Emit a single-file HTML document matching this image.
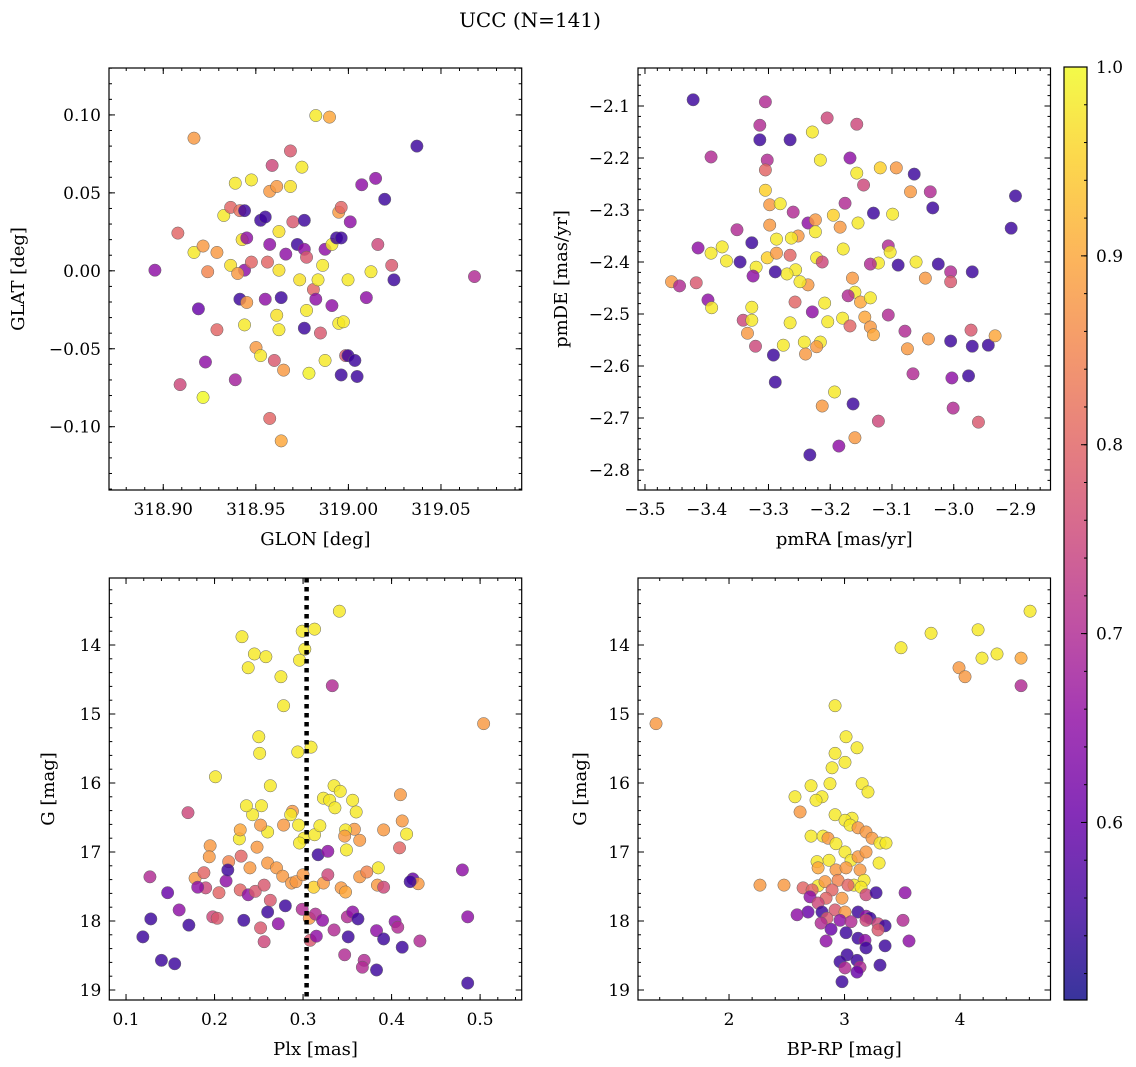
<!DOCTYPE html>
<html><head><meta charset="utf-8"><style>
body{margin:0;background:#fff;}
svg{display:block;font-family:"DejaVu Serif","Liberation Serif",serif;}
</style></head><body>
<svg id="fig" width="1136" height="1067" viewBox="0 0 1136 1067" xmlns="http://www.w3.org/2000/svg">
<defs><linearGradient id="cbg" x1="0" y1="1" x2="0" y2="0"></linearGradient></defs>
<text x="530" y="27" text-anchor="middle" font-size="20">UCC (N=141)</text>
</svg>
<script>
// Panel 1: [GLON, GLAT, membership prob]
const glonGlatProb = [
[318.8955,0.0004,.65],[318.9079,0.0242,.8],[318.9166,0.0851,.88],[318.9091,-0.0730,.75],[318.9190,-0.0244,.6],[318.9215,-0.0812,1],[318.9228,-0.0585,.65],[318.9166,0.0118,.98],[318.9215,0.0159,.88],[318.9240,-0.0006,.85],[318.9290,0.0118,.88],[318.9290,-0.0378,.8],[318.9327,0.0355,.98],[318.9364,0.0407,.8],[318.9389,0.0562,.98],[318.9389,-0.0699,.68],[318.9364,0.0035,.97],[318.9414,0.0386,.82],[318.9439,0.0386,.55],[318.9439,0.0004,.65],[318.9414,-0.0182,.55],[318.9439,-0.0347,.98],[318.9426,0.0200,.97],[318.9451,0.0211,.65],[318.9476,0.0583,.98],[318.9476,0.0056,.8],[318.9501,-0.0492,.88],[318.9526,0.0324,.55],[318.9526,-0.0544,.98],[318.9551,-0.0182,.65],[318.9563,0.0056,.8],[318.9575,0.0510,.88],[318.9575,0.0169,.65],[318.9588,0.0676,.75],[318.9575,-0.0947,.8],[318.9625,0.0252,.97],[318.9613,0.0541,.88],[318.9613,-0.0285,.97],[318.9625,-0.0378,.98],[318.9625,0.0004,.97],[318.9637,-0.0172,.55],[318.9662,0.0107,.65],[318.9650,-0.0637,.88],[318.9637,-0.1091,.9],[318.9687,0.0769,.78],[318.9687,0.0541,.97],[318.9700,0.0314,.78],[318.9724,0.0169,.55],[318.9749,0.0665,.98],[318.9762,0.0324,.55],[318.9762,-0.0368,.55],[318.9774,-0.0254,.98],[318.9787,-0.0657,.99],[318.9737,-0.0058,.97],[318.9762,0.0138,.65],[318.9824,0.0996,.98],[318.9898,0.0986,.9],[318.9811,-0.0120,.8],[318.9824,-0.0182,.65],[318.9836,-0.0058,.98],[318.9861,0.0035,.98],[318.9874,0.0138,.65],[318.9849,-0.0399,.78],[318.9911,-0.0223,.65],[318.9874,-0.0575,.98],[318.9911,0.0169,.98],[318.9936,0.0211,.55],[318.9948,0.0376,.88],[318.9961,0.0407,.8],[318.9948,-0.0337,.98],[318.9961,0.0211,.55],[318.9985,-0.0544,.78],[318.9973,-0.0327,.98],[318.9998,-0.0544,.55],[318.9998,-0.0058,.98],[319.0010,0.0314,.65],[319.0035,-0.0575,.55],[319.0047,-0.0678,.55],[319.0072,0.0552,.65],[319.0097,-0.0172,.65],[319.0122,-0.0006,.98],[319.0147,0.0593,.65],[319.0159,0.0169,.75],[319.0196,0.0459,.55],[319.0234,0.0035,.78],[319.0246,-0.0058,.55],[319.0370,0.0800,.55],[319.0681,-0.0037,.7],[318.9961,-0.0668,.55],[318.9551,0.0345,.55],[318.9451,-0.0203,.88],[318.9600,-0.0575,.78],[318.9774,0.0087,.78],[318.9402,-0.0017,.88]
];
// Panel 2: [pmRA, pmDE, prob]
const pmraPmdeProb = [
[-3.422,-2.088,.55],[-3.305,-2.092,.7],[-3.393,-2.198,.7],[-3.314,-2.137,.7],[-3.314,-2.165,.55],[-3.302,-2.204,.7],[-3.305,-2.262,.95],[-3.305,-2.223,.8],[-3.265,-2.165,.55],[-3.229,-2.150,.98],[-3.205,-2.123,.75],[-3.157,-2.135,.75],[-3.216,-2.204,.98],[-3.168,-2.200,.65],[-3.157,-2.229,.98],[-3.119,-2.219,.95],[-3.093,-2.219,.88],[-3.146,-2.252,.75],[-3.064,-2.231,.55],[-3.070,-2.265,.88],[-3.034,-2.296,.55],[-3.038,-2.265,.7],[-2.900,-2.273,.55],[-2.907,-2.335,.55],[-3.298,-2.290,.88],[-3.281,-2.288,.98],[-3.298,-2.329,.88],[-3.287,-2.356,.98],[-3.260,-2.304,.7],[-3.252,-2.350,.88],[-3.236,-2.325,.65],[-3.224,-2.319,.88],[-3.195,-2.310,.95],[-3.176,-2.287,.7],[-3.184,-2.333,.88],[-3.155,-2.325,.98],[-3.099,-2.308,.98],[-3.130,-2.306,.55],[-3.106,-2.369,.7],[-3.103,-2.381,.98],[-3.122,-2.402,.98],[-3.135,-2.404,.7],[-3.090,-2.406,.55],[-3.061,-2.400,.98],[-3.005,-2.419,.7],[-2.970,-2.419,.55],[-3.025,-2.404,.55],[-3.005,-2.438,.78],[-3.046,-2.431,.88],[-3.327,-2.363,.55],[-3.346,-2.400,.55],[-3.320,-2.410,.98],[-3.302,-2.392,.95],[-3.287,-2.383,.88],[-3.263,-2.354,.98],[-3.265,-2.387,.8],[-3.256,-2.415,.98],[-3.270,-2.423,.98],[-3.224,-2.342,.98],[-3.222,-2.392,.98],[-3.213,-2.400,.75],[-3.179,-2.375,.98],[-3.164,-2.431,.88],[-3.160,-2.458,.98],[-3.171,-2.465,.7],[-3.151,-2.477,.9],[-3.135,-2.469,.98],[-3.106,-2.502,.7],[-3.180,-2.508,.98],[-3.204,-2.515,.98],[-3.209,-2.479,.98],[-3.144,-2.506,.9],[-3.135,-2.525,.88],[-3.229,-2.496,.65],[-3.236,-2.444,.88],[-3.249,-2.438,.98],[-3.289,-2.419,.55],[-3.325,-2.427,.65],[-3.257,-2.477,.8],[-3.341,-2.512,.75],[-3.327,-2.487,.98],[-3.327,-2.512,.98],[-3.334,-2.537,.88],[-3.079,-2.533,.7],[-3.041,-2.548,.88],[-3.005,-2.552,.55],[-2.972,-2.531,.78],[-2.970,-2.562,.55],[-2.944,-2.560,.55],[-2.933,-2.542,.9],[-3.075,-2.567,.88],[-3.130,-2.540,.9],[-3.168,-2.523,.8],[-3.216,-2.554,.98],[-3.242,-2.554,.98],[-3.222,-2.563,.88],[-3.240,-2.577,.88],[-3.265,-2.517,.98],[-3.276,-2.560,.98],[-3.292,-2.579,.55],[-3.321,-2.562,.75],[-3.414,-2.373,.65],[-3.417,-2.440,.78],[-3.457,-2.438,.88],[-3.444,-2.446,.7],[-3.393,-2.383,.98],[-3.375,-2.371,.98],[-3.368,-2.398,.98],[-3.351,-2.338,.7],[-3.398,-2.473,.65],[-3.392,-2.488,.98],[-3.289,-2.631,.55],[-3.193,-2.650,.98],[-3.213,-2.677,.88],[-3.163,-2.673,.55],[-3.122,-2.706,.75],[-3.066,-2.615,.7],[-3.003,-2.623,.65],[-2.976,-2.619,.55],[-3.001,-2.681,.7],[-2.960,-2.708,.78],[-3.186,-2.754,.65],[-3.160,-2.738,.88],[-3.233,-2.771,.55]
];
// Panel 3: [Plx, G, prob]
const plxGProb = [
[.231,13.88,.98],[.238,14.33,.98],[.245,14.13,.98],[.258,14.17,.98],[.275,14.46,.98],[.296,14.22,.98],[.299,13.80,.98],[.313,13.77,.98],[.302,14.06,.98],[.341,13.51,.98],[.333,14.59,.7],[.504,15.14,.88],[.278,14.88,.98],[.250,15.33,.98],[.251,15.57,.98],[.294,15.55,.98],[.309,15.48,.98],[.201,15.91,.98],[.263,16.04,.98],[.243,16.46,.98],[.236,16.33,.98],[.253,16.33,.98],[.170,16.43,.75],[.288,16.41,.88],[.295,16.61,.98],[.286,16.46,.98],[.301,16.80,.98],[.296,16.87,.98],[.313,16.75,.98],[.319,16.62,.98],[.323,16.22,.98],[.330,16.25,.98],[.335,16.04,.98],[.342,16.12,.98],[.336,16.36,.98],[.356,16.25,.98],[.360,16.42,.98],[.358,16.67,.88],[.348,16.68,.98],[.349,16.97,.98],[.347,16.77,.88],[.364,16.83,.88],[.385,17.23,.98],[.391,16.68,.88],[.412,16.55,.88],[.410,16.17,.88],[.417,16.74,.98],[.409,16.94,.8],[.317,17.04,.55],[.328,16.99,.65],[.228,16.81,.98],[.260,16.71,.98],[.278,16.61,.88],[.252,16.61,.88],[.248,16.93,.88],[.229,16.68,.9],[.195,16.91,.88],[.194,17.07,.88],[.178,17.38,.88],[.188,17.30,.8],[.216,17.14,.85],[.230,17.06,.8],[.240,17.23,.88],[.260,17.16,.88],[.270,17.23,.88],[.277,17.35,.88],[.287,17.45,.88],[.292,17.43,.88],[.300,17.33,.88],[.312,17.51,.95],[.323,17.45,.88],[.328,17.33,.75],[.343,17.52,.88],[.348,17.58,.9],[.364,17.36,.88],[.372,17.29,.85],[.384,17.48,.88],[.391,17.51,.75],[.424,17.39,.6],[.430,17.46,.88],[.480,17.26,.65],[.190,17.52,.75],[.205,17.59,.8],[.213,17.42,.65],[.229,17.55,.8],[.238,17.62,.65],[.246,17.57,.78],[.256,17.48,.78],[.263,17.70,.78],[.215,17.26,.55],[.181,17.51,.65],[.147,17.59,.6],[.127,17.36,.7],[.128,17.97,.55],[.160,17.84,.65],[.171,18.06,.55],[.198,17.94,.75],[.203,17.96,.78],[.233,17.99,.55],[.252,18.10,.78],[.260,17.87,.55],[.272,18.04,.65],[.256,18.30,.75],[.280,17.78,.55],[.299,17.83,.7],[.307,17.96,.88],[.314,17.90,.7],[.308,18.28,.78],[.315,18.22,.65],[.322,17.99,.65],[.335,18.13,.7],[.350,17.94,.7],[.356,17.87,.65],[.362,17.97,.55],[.351,18.23,.55],[.347,18.49,.7],[.369,18.57,.7],[.383,18.14,.65],[.391,18.26,.55],[.404,18.01,.65],[.407,18.09,.7],[.412,18.38,.55],[.432,18.29,.7],[.486,17.94,.65],[.486,18.90,.55],[.383,18.71,.55],[.367,18.67,.7],[.119,18.23,.55],[.140,18.57,.55],[.155,18.62,.55],[.421,17.43,.55]
];
// Panel 4: [BP-RP, G, prob]
const bprpGProb = [
[4.606,13.51,.98],[4.528,14.59,.7],[4.528,14.19,.9],[4.320,14.13,.98],[4.190,14.19,.98],[4.156,13.78,.98],[3.749,13.83,.98],[3.991,14.33,.88],[4.043,14.46,.88],[3.489,14.04,.98],[1.368,15.14,.88],[2.918,14.88,.98],[3.013,15.33,.98],[3.108,15.49,.98],[2.918,15.57,.98],[3.004,15.70,.98],[2.892,15.78,.98],[2.710,16.04,.98],[2.874,16.01,.98],[3.152,16.01,.98],[3.203,16.13,.98],[2.571,16.20,.98],[2.805,16.20,.98],[2.753,16.25,.98],[2.615,16.42,.88],[2.918,16.46,.98],[3.065,16.51,.98],[3.004,16.54,.98],[3.048,16.61,.98],[3.117,16.65,.88],[3.186,16.71,.88],[3.238,16.80,.88],[3.307,16.87,.98],[3.359,16.87,.98],[2.710,16.77,.98],[2.814,16.77,.98],[2.857,16.80,.88],[2.926,16.88,.98],[3.004,17.00,.98],[3.056,17.12,.98],[3.117,17.07,.88],[3.186,17.00,.88],[3.299,17.16,.98],[2.762,17.14,.98],[2.866,17.12,.98],[2.926,17.26,.88],[2.771,17.23,.9],[3.013,17.23,.88],[3.134,17.26,.88],[3.169,17.41,.98],[3.082,17.48,.98],[3.143,17.51,.98],[2.771,17.49,.98],[2.831,17.43,.88],[2.944,17.41,.85],[3.030,17.48,.8],[2.268,17.48,.88],[2.476,17.48,.88],[2.641,17.52,.8],[2.719,17.55,.8],[2.892,17.55,.8],[2.978,17.67,.88],[2.840,17.67,.8],[3.186,17.62,.75],[3.273,17.59,.55],[3.524,17.59,.65],[2.701,17.65,.65],[2.771,17.74,.75],[2.918,17.84,.78],[3.004,17.87,.88],[3.117,17.87,.55],[3.186,17.93,.65],[3.221,17.96,.55],[3.290,18.04,.75],[3.351,18.07,.55],[3.290,18.13,.78],[3.506,17.99,.7],[3.558,18.29,.65],[2.684,17.87,.6],[2.589,17.91,.65],[2.805,17.87,.55],[2.848,17.96,.78],[2.961,17.99,.65],[3.056,18.01,.7],[3.186,17.99,.75],[2.797,18.03,.7],[2.883,18.12,.6],[2.840,18.29,.65],[3.013,18.17,.55],[3.117,18.25,.55],[3.177,18.28,.65],[3.022,18.49,.55],[3.186,18.39,.55],[3.351,18.36,.55],[3.108,18.57,.55],[3.134,18.67,.7],[3.307,18.64,.55],[3.108,18.74,.6],[2.961,18.59,.55],[3.004,18.68,.7],[2.978,18.88,.55]
];
const plxRef = 0.304;
const glonTicks = ["318.90","318.95","319.00","319.05"];
const glatTicks = ["−0.10","−0.05","0.00","0.05","0.10"];
const pmraTicks = ["−3.5","−3.4","−3.3","−3.2","−3.1","−3.0","−2.9"];
const pmdeTicks = ["−2.8","−2.7","−2.6","−2.5","−2.4","−2.3","−2.2","−2.1"];
const plxTicks = ["0.1","0.2","0.3","0.4","0.5"];
const gTicks = ["14","15","16","17","18","19"];
const bprpTicks = ["2","3","4"];
const cbTicks = ["0.6","0.7","0.8","0.9","1.0"];
const probMin = 0.506, probMax = 1.0;

const NS = "http://www.w3.org/2000/svg";
const svg = document.getElementById('fig');
function el(tag, attrs, parent){ const e=document.createElementNS(NS,tag); for(const k in attrs) e.setAttribute(k,attrs[k]); (parent||svg).appendChild(e); return e; }
const num = s => parseFloat(s.replace('−','-'));
const stops=["#0d0887","#41049d","#6a00a8","#8f0da4","#b12a90","#cc4778","#e16462","#f2844b","#fca636","#fcce25","#f0f921"];
function hex(h){return [1,3,5].map(i=>parseInt(h.substr(i,2),16));}
function plasma(t){ t=Math.max(0,Math.min(1,t)); const f=t*10, i=Math.min(9,Math.floor(f)), r=f-i; const a=hex(stops[i]), b=hex(stops[i+1]); return 'rgb('+a.map((v,k)=>Math.round(v+(b[k]-v)*r)).join(',')+')'; }
const lin=(d0,d1,r0,r1)=>v=>r0+(v-d0)/(d1-d0)*(r1-r0);

function panel(name, box, xd, yd, xTicks, yTicks, xMinor, yMinor, data, xl, yl, ylx){
  const g=el('g',{});
  
  
  const X=lin(xd[0],xd[1],box.x0,box.x1), Y=lin(yd[0],yd[1],box.y1,box.y0);
  const pts=el('g',{},g);
  
  
  data.forEach(d=>{
    const c=el('circle',{cx:X(d[0]),cy:Y(d[1]),r:6.2,fill:plasma((d[2]-probMin)/(probMax-probMin)),'fill-opacity':0.82,stroke:'#666','stroke-width':0.5},pts);
    
    
  });
  const lo=Math.min(xd[0],xd[1]),hi=Math.max(xd[0],xd[1]);
  for(let v=Math.ceil(lo/xMinor-1e-6)*xMinor; v<=hi+1e-9; v+=xMinor){const p=X(v); el('line',{x1:p,x2:p,y1:box.y1,y2:box.y1-3,stroke:'#000'},g); el('line',{x1:p,x2:p,y1:box.y0,y2:box.y0+3,stroke:'#000'},g);}
  const ylo=Math.min(yd[0],yd[1]),yhi=Math.max(yd[0],yd[1]);
  for(let v=Math.ceil(ylo/yMinor-1e-6)*yMinor; v<=yhi+1e-9; v+=yMinor){const p=Y(v); el('line',{x1:box.x0,x2:box.x0+3,y1:p,y2:p,stroke:'#000'},g); el('line',{x1:box.x1,x2:box.x1-3,y1:p,y2:p,stroke:'#000'},g);}
  xTicks.forEach(t=>{const p=X(num(t)); el('line',{x1:p,x2:p,y1:box.y1,y2:box.y1-6,stroke:'#000'},g); el('line',{x1:p,x2:p,y1:box.y0,y2:box.y0+6,stroke:'#000'},g);
    const tx=el('text',{x:p,y:box.y1+25,'text-anchor':'middle','font-size':17},g); tx.textContent=t;
    
    });
  yTicks.forEach(t=>{const p=Y(num(t)); el('line',{x1:box.x0,x2:box.x0+6,y1:p,y2:p,stroke:'#000'},g); el('line',{x1:box.x1,x2:box.x1-6,y1:p,y2:p,stroke:'#000'},g);
    const tx=el('text',{x:box.x0-8,y:p+6,'text-anchor':'end','font-size':17},g); tx.textContent=t;
    
    });
  el('rect',{x:box.x0,y:box.y0,width:box.x1-box.x0,height:box.y1-box.y0,fill:'none',stroke:'#000','stroke-width':1.2},g);
  const xt=el('text',{x:(box.x0+box.x1)/2,y:box.y1+55,'text-anchor':'middle','font-size':18},g); xt.textContent=xl;
  
  
  const cy=(box.y0+box.y1)/2;
  const yt=el('text',{x:ylx,y:cy,'text-anchor':'middle','font-size':18,transform:'rotate(-90 '+ylx+' '+cy+')'},g); yt.textContent=yl;
  
  
  return {X,Y,g};
}
const b1={x0:109,x1:521.7,y0:68,y1:490}, b2={x0:638,x1:1050.5,y0:68,y1:490}, b3={x0:109.3,x1:521.7,y0:578,y1:1000}, b4={x0:638,x1:1050.5,y0:578,y1:1000};
panel('glon-glat',b1,[318.8707,319.0936],[-0.1406,0.1301],glonTicks,glatTicks,0.01,0.01,glonGlatProb,'GLON [deg]','GLAT [deg]',24);
panel('pm',b2,[-3.5113,-2.8433],[-2.8385,-2.0269],pmraTicks,pmdeTicks,0.02,0.02,pmraPmdeProb,'pmRA [mas/yr]','pmDE [mas/yr]',567);
const p3=panel('plx-g',b3,[0.0811,0.547],[19.145,13.029],plxTicks,gTicks,0.02,0.2,plxGProb,'Plx [mas]','G [mag]',54);
panel('cmd',b4,[1.212,4.783],[19.145,13.029],bprpTicks,gTicks,0.2,0.2,bprpGProb,'BP-RP [mag]','G [mag]',586);
const ref=el('line',{x1:p3.X(plxRef),x2:p3.X(plxRef),y1:b3.y0,y2:b3.y1,stroke:'#000','stroke-width':4.5,'stroke-dasharray':'4.5 4.5'});



// colorbar
const grad=document.getElementById('cbg');
stops.forEach((s,i)=>el('stop',{offset:(i/10),'stop-color':s,'stop-opacity':0.82},grad));
const cb={x0:1064,x1:1087,y0:67,y1:1000};
const CY=lin(probMin,probMax,cb.y1,cb.y0);
const cbg=el('g',{});


el('rect',{x:cb.x0,y:cb.y0,width:cb.x1-cb.x0,height:cb.y1-cb.y0,fill:'url(#cbg)',stroke:'#000','stroke-width':1.2},cbg);
for(let v=0.52; v<=1.0001; v+=0.02){ el('line',{x1:cb.x1,x2:cb.x1-3,y1:CY(v),y2:CY(v),stroke:'#000'},cbg); }
cbTicks.forEach(t=>{const p=CY(num(t)); el('line',{x1:cb.x1,x2:cb.x1-6,y1:p,y2:p,stroke:'#000'},cbg);
  const tx=el('text',{x:cb.x1+9,y:p+6,'font-size':17},cbg); tx.textContent=t;
  
  });
</script>
</body></html>
